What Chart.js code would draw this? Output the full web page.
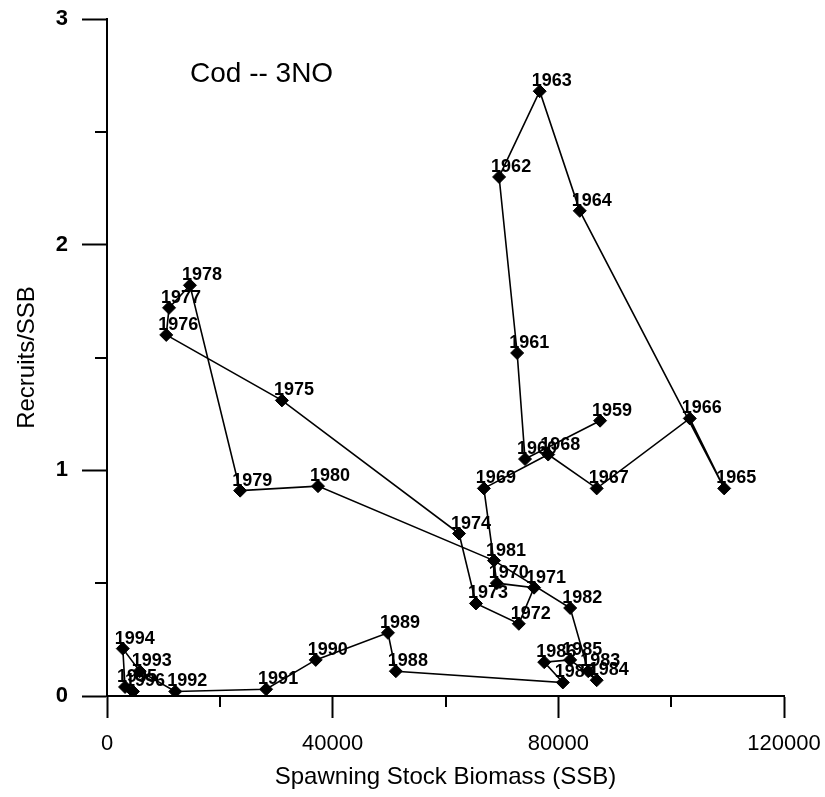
<!DOCTYPE html>
<html><head><meta charset="utf-8">
<script src="https://cdn.jsdelivr.net/npm/chart.js@4.4.1/dist/chart.umd.min.js"></script>
<style>html,body{margin:0;padding:0;background:#fff;} #wrap{width:825px;height:797px;}</style>
</head><body><div id="wrap"><canvas id="c" width="825" height="797"></canvas></div>
<script>
const years = [1959,1960,1961,1962,1963,1964,1965,1966,1967,1968,1969,1970,1971,1972,1973,1974,1975,1976,1977,1978,1979,1980,1981,1982,1983,1984,1985,1986,1987,1988,1989,1990,1991,1992,1993,1994,1995,1996];
const ssb = [87400,74100,72700,69500,76700,83800,109400,103300,86800,78200,66800,69100,75700,73000,65400,62400,31000,10500,11000,14700,23600,37400,68600,82100,85300,86800,82100,77500,80800,51200,49800,37000,28200,12100,5800,2800,3200,4600];
const recruitsPerSsb = [1.22,1.05,1.52,2.30,2.68,2.15,0.92,1.23,0.92,1.07,0.92,0.50,0.48,0.32,0.41,0.72,1.31,1.60,1.72,1.82,0.91,0.93,0.60,0.39,0.11,0.07,0.16,0.15,0.06,0.11,0.28,0.16,0.03,0.02,0.11,0.21,0.04,0.02];
const xMajorTicks = [0,40000,80000,120000];
const yMajorTicks = [0,1,2,3];
const chartTitle = 'Cod -- 3NO';
const xTitle = 'Spawning Stock Biomass (SSB)';
const yTitle = 'Recruits/SSB';

const FONT = "'Liberation Sans', Arial, sans-serif";
const points = ssb.map((v,i)=>({x:v,y:recruitsPerSsb[i]}));

const minorTicks = {
  id:'minorTicks',
  afterDraw(chart){
    const ctx = chart.ctx, a = chart.chartArea;
    const xs = chart.scales.x, ys = chart.scales.y;
    ctx.save();
    ctx.strokeStyle = '#000'; ctx.lineWidth = 2;
    xs.ticks.forEach(t=>{
      if (!xMajorTicks.includes(t.value)) {
        const px = Math.round(xs.getPixelForValue(t.value));
        ctx.beginPath(); ctx.moveTo(px, a.bottom); ctx.lineTo(px, a.bottom+11); ctx.stroke();
      }
    });
    ys.ticks.forEach(t=>{
      if (!yMajorTicks.includes(t.value)) {
        const py = Math.round(ys.getPixelForValue(t.value));
        ctx.beginPath(); ctx.moveTo(a.left, py); ctx.lineTo(a.left-12, py); ctx.stroke();
      }
    });
    ctx.restore();
  }
};

const yearLabels = {
  id:'yearLabels',
  afterDatasetsDraw(chart){
    const ctx = chart.ctx;
    const meta = chart.getDatasetMeta(0);
    ctx.save();
    ctx.fillStyle = '#000';
    ctx.font = 'bold 18px ' + FONT;
    ctx.textAlign = 'left'; ctx.textBaseline = 'alphabetic';
    meta.data.forEach((el,i)=>{
      ctx.fillText(String(years[i]), el.x - 8, el.y - 5);
    });
    ctx.font = '28px ' + FONT;
    const a = chart.chartArea;
    ctx.fillText(chartTitle, a.left + 83, a.top + 63);
    ctx.restore();
  }
};

new Chart(document.getElementById('c'), {
  type:'scatter',
  data:{datasets:[{
    data:points,
    showLine:true,
    borderColor:'#000',
    borderWidth:1.6,
    backgroundColor:'#000',
    pointStyle:'rectRot',
    pointRadius:6.5,
    pointBorderWidth:1,
    pointBorderColor:'#000',
    pointBackgroundColor:'#000',
    tension:0
  }]},
  options:{
    responsive:false,
    devicePixelRatio:1,
    animation:false,
    layout:{padding:{top:19,right:41,left:0,bottom:0}},
    plugins:{legend:{display:false},tooltip:{enabled:false}},
    scales:{
      x:{
        type:'linear', min:0, max:120000,
        afterFit(s){ s.height = 101; s.paddingLeft = 0; s.paddingRight = 0; },
        ticks:{stepSize:20000, autoSkip:false, maxRotation:0, color:'#000', padding:13,
          font:{family:FONT,size:22},
          callback:v=> xMajorTicks.includes(v) ? String(v) : ''},
        grid:{display:true, drawOnChartArea:false, drawTicks:true, tickLength:22, tickWidth:2,
          tickColor:c=> (c.tick && xMajorTicks.includes(c.tick.value)) ? '#000' : 'rgba(0,0,0,0)'},
        border:{display:true,color:'#000',width:2},
        title:{display:true, text:xTitle, color:'#000', font:{family:FONT,size:24}, padding:{top:0,bottom:5}}
      },
      y:{
        type:'linear', min:0, max:3,
        afterFit(s){ s.width = 107; s.paddingTop = 0; s.paddingBottom = 0; },
        ticks:{stepSize:0.5, autoSkip:false, color:'#000', padding:14,
          font:{family:FONT,size:22,weight:'bold'},
          callback:v=> yMajorTicks.includes(v) ? String(v) : ''},
        grid:{display:true, drawOnChartArea:false, drawTicks:true, tickLength:25, tickWidth:2,
          tickColor:c=> (c.tick && yMajorTicks.includes(c.tick.value)) ? '#000' : 'rgba(0,0,0,0)'},
        border:{display:true,color:'#000',width:2},
        title:{display:true, text:yTitle, color:'#000', font:{family:FONT,size:24}, padding:{top:13,bottom:0}}
      }
    }
  },
  plugins:[minorTicks, yearLabels]
});
</script>
</body></html>
